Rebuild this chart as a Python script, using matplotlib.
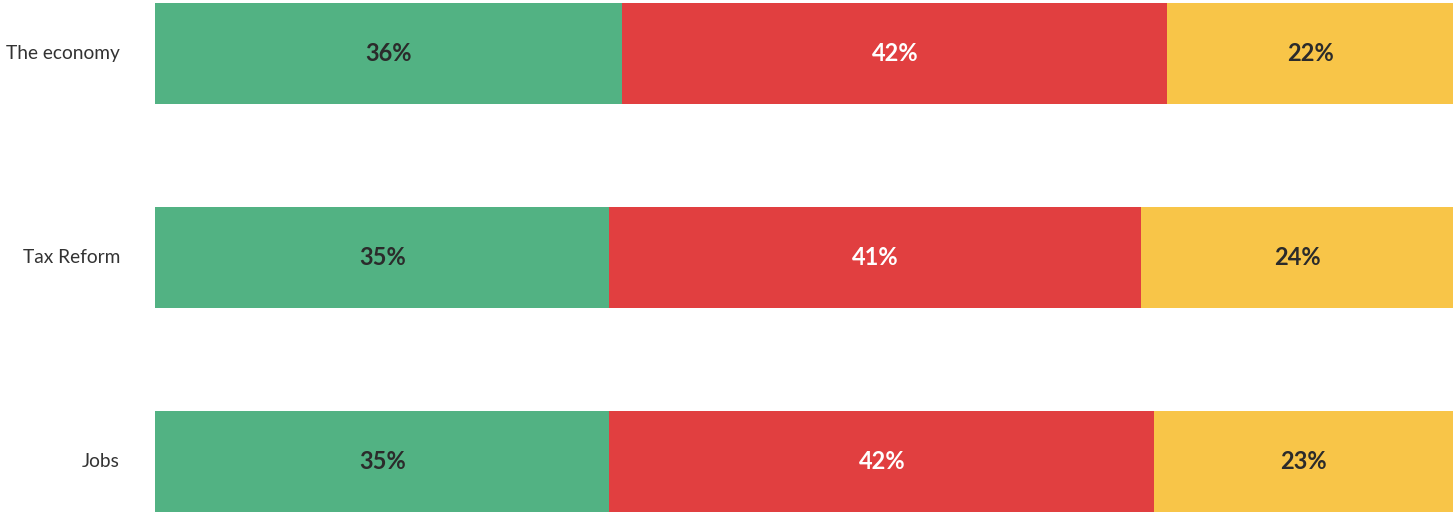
import numpy as np
import matplotlib.pyplot as plt

categories = ["The economy", "Tax Reform", "Jobs"]
green_vals = [36, 35, 35]
red_vals = [42, 41, 42]
yellow_vals = [22, 24, 23]

colors = ["#52B283", "#E13F40", "#F8C548"]
text_colors = ["#2b2b2b", "white", "#2b2b2b"]

plt.rcParams['font.family'] = ['Lato', 'DejaVu Sans']

fig = plt.figure(figsize=(14.53, 5.14), dpi=100)
ax = fig.add_axes([155 / 1453, 0, 1 - 155 / 1453, 1])

y = np.arange(len(categories))
left = np.zeros(len(categories))
for vals, col, tcol in zip([green_vals, red_vals, yellow_vals], colors, text_colors):
    vals = np.array(vals, dtype=float)
    ax.barh(y, vals, left=left, height=0.495, color=col, edgecolor="none")
    for yi, l, v in zip(y, left, vals):
        ax.text(l + v / 2, yi, f"{int(v)}%", ha="center", va="center",
                fontsize=17, fontweight="bold", color=tcol)
    left += vals

ax.set_xlim(0, 100)
ax.set_ylim(514 / 204 - 53.5 / 204, -53.5 / 204)
ax.axis("off")

for yi, cat in zip(y, categories):
    ax.annotate(cat, xy=(0, yi), xycoords=("axes fraction", "data"),
                xytext=(-35, 0), textcoords="offset pixels",
                ha="right", va="center", fontsize=13.8, color="#333333")

fig.savefig("out.png", dpi=100)
